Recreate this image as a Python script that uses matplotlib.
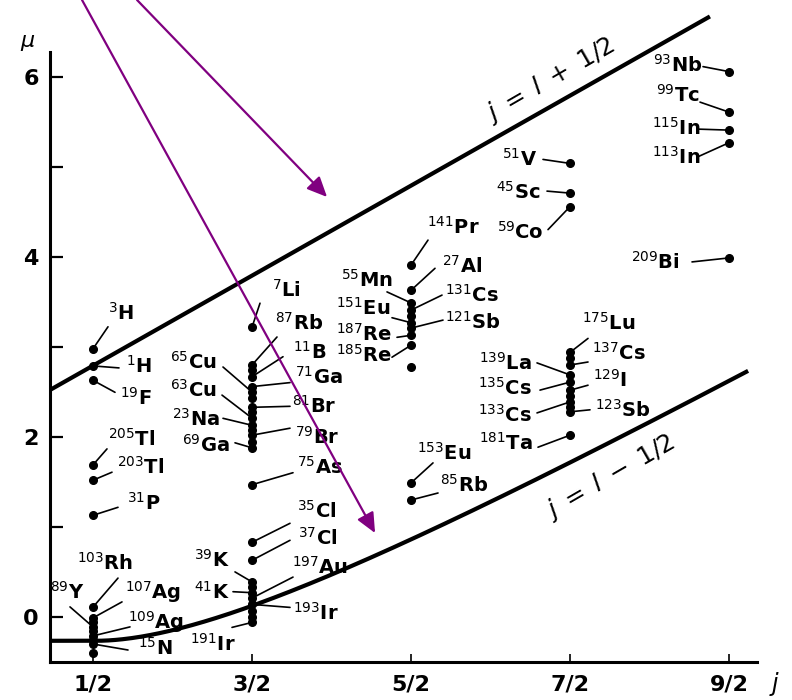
import matplotlib
matplotlib.use('Agg')
import matplotlib.pyplot as plt
import numpy as np

plt.rcParams['font.family'] = ['DejaVu Sans']
plt.rcParams['mathtext.fontset'] = 'dejavusans'

# ---------------- data ----------------
mass = ['3', '1', '19', '205', '203', '31', '103', '89', '107', '109', '15',
        '7', '87', '11', '71', '81', '79', '65', '63', '23', '69', '75', '35', '37',
        '39', '41', '197', '193', '191',
        '141', '27', '55', '131', '151', '121', '187', '185', '153', '85',
        '175', '137', '139', '135', '129', '133', '123', '181', '51', '45', '59',
        '93', '99', '115', '113', '209']
element = ['H', 'H', 'F', 'Tl', 'Tl', 'P', 'Rh', 'Y', 'Ag', 'Ag', 'N',
           'Li', 'Rb', 'B', 'Ga', 'Br', 'Br', 'Cu', 'Cu', 'Na', 'Ga', 'As', 'Cl', 'Cl',
           'K', 'K', 'Au', 'Ir', 'Ir',
           'Pr', 'Al', 'Mn', 'Cs', 'Eu', 'Sb', 'Re', 'Re', 'Eu', 'Rb',
           'Lu', 'Cs', 'La', 'Cs', 'I', 'Cs', 'Sb', 'Ta', 'V', 'Sc', 'Co',
           'Nb', 'Tc', 'In', 'In', 'Bi']
spin_j = [0.5] * 11 + [1.5] * 18 + [2.5] * 10 + [3.5] * 11 + [4.5] * 5
moment = [2.98, 2.79, 2.63, 1.69, 1.52, 1.13, 0.11, -0.11, -0.01, -0.21, -0.30,
          3.22, 2.80, 2.67, 2.56, 2.33, 2.02, 2.50, 2.21, 2.13, 1.88, 1.47, 0.83, 0.63,
          0.39, 0.27, 0.21, 0.14, -0.06,
          3.91, 3.63, 3.49, 3.41, 3.27, 3.21, 3.13, 3.02, 1.49, 1.30,
          2.94, 2.80, 2.69, 2.61, 2.52, 2.39, 2.28, 2.02, 5.04, 4.71, 4.56,
          6.06, 5.61, 5.41, 5.27, 3.99]

# unlabeled nuclei (dots in the dense columns)
unl_j = [0.5, 0.5, 0.5, 0.5,
         1.5, 1.5, 1.5, 1.5, 1.5, 1.5, 1.5, 1.5,
         2.5, 2.5, 3.5, 3.5, 3.5]
unl_mu = [-0.06, -0.16, -0.26, -0.40,
          2.74, 2.43, 2.28, 2.08, 1.95, 0.33, 0.07, 0.00,
          2.78, 3.34, 2.88, 2.46, 2.33]

xtick_vals = [0.5, 1.5, 2.5, 3.5, 4.5]
xtick_labels = ['1/2', '3/2', '5/2', '7/2', '9/2']
ytick_major = [0, 2, 4, 6]
ytick_minor = [1, 3, 5]

# proton Schmidt lines
g_s = 5.586
def mu_upper(j):   # j = l + 1/2
    return j - 0.5 + g_s / 2
def mu_lower(j):   # j = l - 1/2
    return j / (j + 1) * (j + 1.5 - g_s / 2)

# ---------------- layout (label placement, pixels, y downward) ----------------
label_ha = ['left', 'left', 'left', 'left', 'left', 'left', 'center', 'center', 'left', 'left', 'left',
            'left', 'left', 'left', 'left', 'left', 'left', 'right', 'right', 'right', 'right', 'left', 'left', 'left',
            'right', 'right', 'left', 'left', 'left',
            'left', 'left', 'right', 'left', 'right', 'left', 'right', 'right', 'left', 'left',
            'left', 'left', 'right', 'right', 'left', 'right', 'left', 'right', 'right', 'right', 'right',
            'right', 'right', 'right', 'right', 'right']
label_off = [(15, -29), (33, 7), (27, 24), (15, -19), (24, -6), (34, -6), (12, -37), (-26, -28), (32, -19), (35, -7), (45, 11),
             (20, -30), (23, -35), (41, -18), (43, -3), (40, 5), (43, 9), (-35, -23), (-35, -21), (-32, 0), (-22, 4), (45, -11), (45, -25), (46, -16),
             (-22, -15), (-22, 6), (40, -24), (41, 15), (-62, 28),
             (16, -31), (31, -18), (-18, -16), (34, -8), (-21, -8), (34, 1), (-19, 5), (-19, 17), (6, -23), (29, -8),
             (12, -23), (22, -5), (-38, -5), (-38, 13), (23, -3), (-38, 20), (25, 5), (-37, 15), (-33, 2), (-30, 6), (-27, 32),
             (-27, 0), (-29, -10), (-29, 5), (-29, 21), (-49, 11)]
lead_off = [(15, -22), (26, 2), (22, 12), (14, -16), (19, -8), (25, -8), (25, -29), (-23, -20), (29, -16), (37, -9), (35, 6),
            (8, -24), (25, -28), (31, -20), (38, -4), (38, -1), (38, -7), (-29, -25), (-30, -23), (-29, -7), (-17, -5), (41, -12), (38, -19), (38, -20),
            (-17, -10), (-19, -1), (41, -21), (38, 3), (-20, 5),
            (17, -25), (24, -22), (-24, -11), (31, -15), (-19, -5), (32, -8), (-14, 2), (-19, 12), (22, -20), (27, -7),
            (18, -14), (18, -3), (-33, -12), (-30, 8), (18, -5), (-33, 11), (20, -2), (-32, 12), (-27, -4), (-23, -2), (-22, 23),
            (-26, -5), (-29, -10), (-31, -1), (-31, 14), (-37, 4)]

# ---------------- figure ----------------
fig = plt.figure(figsize=(7.92, 7.0), dpi=100)
ax = fig.add_axes([50 / 792, 38 / 700, 707 / 792, 610 / 700])
ax.set_xlim(0.2296, 4.676)
ax.set_ylim(-0.5, 6.278)

for s in ['top', 'right']:
    ax.spines[s].set_visible(False)
ax.spines['left'].set_linewidth(2.2)
ax.spines['bottom'].set_linewidth(2.2)

ax.set_xticks(xtick_vals)
ax.set_xticklabels(xtick_labels, fontsize=16, fontweight='bold')
ax.set_yticks(ytick_major)
ax.set_yticklabels([str(v) for v in ytick_major], fontsize=16, fontweight='bold')
ax.set_yticks(ytick_minor, minor=True)
ax.tick_params(axis='y', which='both', direction='in', length=9, width=1.6, pad=8)
ax.tick_params(axis='x', which='both', direction='in', length=6, width=1.2, pad=9)

# Schmidt lines
jj_u = np.linspace(0.2296, 4.38, 200)
ax.plot(jj_u, mu_upper(jj_u), color='black', lw=3, clip_on=False, solid_capstyle='butt')
jj_l = np.linspace(0.2296, 4.62, 300)
ax.plot(jj_l, mu_lower(np.maximum(jj_l, 0.5)), color='black', lw=3, clip_on=False, solid_capstyle='butt')

ax.text(3.374, 5.97, r'$j\;=\;l\;+\;1/2$', fontsize=18, rotation=30, ha='center', va='center',
        rotation_mode='anchor')
ax.text(3.752, 1.556, r'$j\;=\;l\;-\;1/2$', fontsize=18, rotation=30, ha='center', va='center',
        rotation_mode='anchor')

# data points
ax.plot(spin_j, moment, 'o', color='black', ms=5.5, clip_on=False, zorder=3)
ax.plot(unl_j, unl_mu, 'o', color='black', ms=5.5, clip_on=False, zorder=3)

for k in range(len(moment)):
    xy = (spin_j[k], moment[k])
    ldx, ldy = lead_off[k]
    ax.annotate('', xy=xy, xytext=(ldx, -ldy), textcoords='offset pixels',
                arrowprops=dict(arrowstyle='-', color='black', lw=1.2, shrinkA=0, shrinkB=0))
    tdx, tdy = label_off[k]
    ax.annotate(r'$^{%s}$%s' % (mass[k], element[k]), xy=xy, xytext=(tdx, -tdy),
                textcoords='offset pixels', ha=label_ha[k], va='baseline',
                fontsize=14, fontweight='bold', annotation_clip=False)

# axis symbols
fig.text(28 / 792, 1 - 43 / 700, r'$\mu$', fontsize=16, ha='center', va='center')
fig.text(775 / 792, 1 - 684 / 700, r'$j$', fontsize=17, ha='center', va='center')

# purple arrows
arrow_tail = [(0.777, 6.856), (0.431, 6.856)]
arrow_head = [(1.972, 4.667), (2.274, 0.933)]
for t, h in zip(arrow_tail, arrow_head):
    ax.annotate('', xy=h, xytext=t, annotation_clip=False,
                arrowprops=dict(arrowstyle='-|>,head_length=0.55,head_width=0.25', color='#800080',
                                lw=1.6, shrinkA=0, shrinkB=0, mutation_scale=22))

fig.savefig('out.png', dpi=100)
